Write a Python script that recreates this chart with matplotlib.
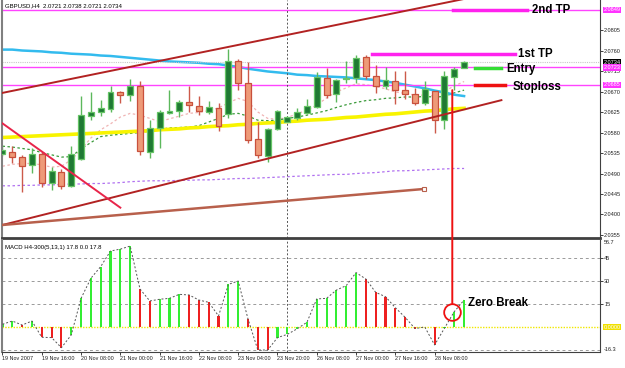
import numpy as np
import matplotlib.pyplot as plt
from matplotlib.patches import ConnectionPatch
from matplotlib.transforms import blended_transform_factory

plt.rcParams['font.family'] = ['Liberation Sans', 'DejaVu Sans']

# GBPUSD H4, 19-28 Nov 2007
opens = [2.0533, 2.0538, 2.0527, 2.0509, 2.0532, 2.0470, 2.0493, 2.0463, 2.0521, 2.0617,
         2.0624, 2.0631, 2.0669, 2.0662, 2.0682, 2.0538, 2.0589, 2.0622, 2.0627, 2.0647,
         2.0638, 2.0626, 2.0633, 2.0621, 2.0738, 2.0689, 2.0565, 2.0529, 2.0587, 2.0604,
         2.0611, 2.0622, 2.0637, 2.0699, 2.0664, 2.0698, 2.0699, 2.0745, 2.0703, 2.0682,
         2.0693, 2.0673, 2.0665, 2.0645, 2.0672, 2.0607, 2.0701, 2.0721]
highs = [2.0550, 2.0550, 2.0530, 2.0545, 2.0538, 2.0505, 2.0499, 2.0550, 2.0660, 2.0670,
         2.0651, 2.0681, 2.0671, 2.0697, 2.0692, 2.0607, 2.0629, 2.0673, 2.0651, 2.0683,
         2.0661, 2.0650, 2.0644, 2.0763, 2.0741, 2.0734, 2.0604, 2.0590, 2.0629, 2.0616,
         2.0633, 2.0653, 2.0712, 2.0721, 2.0697, 2.0738, 2.0750, 2.0750, 2.0728, 2.0724,
         2.0715, 2.0715, 2.0678, 2.0692, 2.0672, 2.0716, 2.0724, 2.0738]
lows = [2.0528, 2.0512, 2.0450, 2.0492, 2.0461, 2.0454, 2.0455, 2.0460, 2.0520, 2.0607,
        2.0616, 2.0626, 2.0644, 2.0650, 2.0531, 2.0523, 2.0545, 2.0621, 2.0613, 2.0626,
        2.0618, 2.0621, 2.0584, 2.0611, 2.0673, 2.0556, 2.0525, 2.0516, 2.0586, 2.0602,
        2.0607, 2.0621, 2.0633, 2.0655, 2.0646, 2.0688, 2.0688, 2.0697, 2.0666, 2.0675,
        2.0642, 2.0653, 2.0640, 2.0640, 2.0580, 2.0587, 2.0673, 2.0721]
closes = [2.0542, 2.0527, 2.0507, 2.0532, 2.0469, 2.0496, 2.0463, 2.0533, 2.0619, 2.0624,
          2.0634, 2.0669, 2.0662, 2.0682, 2.0540, 2.0590, 2.0624, 2.0627, 2.0648, 2.0640,
          2.0627, 2.0635, 2.0595, 2.0737, 2.0689, 2.0564, 2.0531, 2.0588, 2.0627, 2.0613,
          2.0624, 2.0638, 2.0701, 2.0662, 2.0695, 2.0700, 2.0744, 2.0704, 2.0682, 2.0695,
          2.0673, 2.0665, 2.0645, 2.0675, 2.0607, 2.0703, 2.0719, 2.0734]

# moving averages
ma_cyan = [2.0762, 2.0762, 2.0760, 2.0759, 2.0758, 2.0756, 2.0755, 2.0753, 2.0752, 2.0751,
           2.0749, 2.0748, 2.0746, 2.0744, 2.0742, 2.0740, 2.0738, 2.0736, 2.0735, 2.0734,
           2.0733, 2.0731, 2.0730, 2.0727, 2.0724, 2.0720, 2.0717, 2.0714, 2.0712, 2.0710,
           2.0707, 2.0706, 2.0704, 2.0703, 2.0702, 2.0701, 2.0699, 2.0697, 2.0695, 2.0692,
           2.0689, 2.0685, 2.0681, 2.0677, 2.0672, 2.0668, 2.0663, 2.0660]
ma_yellow = [2.0569, 2.0570, 2.0571, 2.0572, 2.0573, 2.0574, 2.0575, 2.0576, 2.0577, 2.0578,
             2.0579, 2.0580, 2.0581, 2.0582, 2.0583, 2.0584, 2.0586, 2.0587, 2.0588, 2.0590,
             2.0591, 2.0593, 2.0594, 2.0595, 2.0597, 2.0598, 2.0600, 2.0601, 2.0602, 2.0604,
             2.0605, 2.0607, 2.0608, 2.0609, 2.0611, 2.0613, 2.0614, 2.0616, 2.0618, 2.0620,
             2.0621, 2.0623, 2.0625, 2.0627, 2.0628, 2.0630, 2.0632, 2.0633]
ma_green = [2.0550, 2.0548, 2.0545, 2.0542, 2.0536, 2.0531, 2.0526, 2.0527, 2.0544, 2.0558,
            2.0571, 2.0574, 2.0576, 2.0578, 2.0580, 2.0583, 2.0587, 2.0590, 2.0591, 2.0592,
            2.0595, 2.0603, 2.0611, 2.0620, 2.0622, 2.0616, 2.0607, 2.0606, 2.0607, 2.0611,
            2.0614, 2.0618, 2.0623, 2.0628, 2.0635, 2.0641, 2.0646, 2.0650, 2.0652, 2.0655,
            2.0656, 2.0658, 2.0658, 2.0659, 2.0658, 2.0659, 2.0667, 2.0673]
ma_pink = [2.0506, 2.0510, 2.0512, 2.0512, 2.0509, 2.0504, 2.0506, 2.0520, 2.0542, 2.0568,
           2.0586, 2.0599, 2.0614, 2.0622, 2.0618, 2.0611, 2.0604, 2.0610, 2.0616, 2.0622,
           2.0624, 2.0628, 2.0634, 2.0645, 2.0655, 2.0648, 2.0625, 2.0611, 2.0609, 2.0613,
           2.0621, 2.0629, 2.0640, 2.0656, 2.0669, 2.0678, 2.0687, 2.0685, 2.0681, 2.0676,
           2.0669, 2.0666, 2.0662, 2.0662, 2.0660, 2.0671, 2.0682, 2.0692]
ma_purple = [2.0463, 2.0463, 2.0464, 2.0464, 2.0465, 2.0465, 2.0466, 2.0467, 2.0467, 2.0468,
             2.0468, 2.0469, 2.0470, 2.0472, 2.0473, 2.0474, 2.0474, 2.0474, 2.0475, 2.0475,
             2.0476, 2.0476, 2.0477, 2.0478, 2.0479, 2.0479, 2.0480, 2.0481, 2.0482, 2.0483,
             2.0484, 2.0485, 2.0486, 2.0487, 2.0488, 2.0488, 2.0490, 2.0491, 2.0492, 2.0494,
             2.0496, 2.0496, 2.0497, 2.0498, 2.0499, 2.0500, 2.0501, 2.0501]

# MACD H4-300(5,13,1)
macd = [2.0, 4.1, 1.5, 4.1, -6.5, -6.7, -13.3, -5.0, 18.9, 32.0, 39.6, 49.8, 51.0, 53.0,
        25.0, 17.2, 18.3, 18.9, 21.5, 21.1, 17.8, 16.3, 7.4, 28.0, 30.2, 5.4, -14.8, -14.8,
        -6.7, -4.6, -1.0, 3.3, 18.5, 18.9, 24.3, 27.2, 35.7, 31.5, 22.8, 20.0, 12.8, 6.5,
        -0.8, 0.2, -11.5, -0.6, 10.2, 17.8]

# trend lines: (bar0, price0, bar1, price1)
upper_channel = (0.0, 2.0667, 49.0, 2.0882)
lower_channel = (0.0, 2.0377, 50.8, 2.0651)
down_line = (0.0, 2.0600, 12.0, 2.0415)
base_line = (0.0, 2.0377, 42.9, 2.0456)

# horizontal levels
tp2 = 2.0849
tp1 = 2.0752
entry_level = 2.0723
stop_level = 2.0685
last_price = 2.0734

date_ticks = [0, 4, 8, 12, 16, 20, 24, 28, 32, 36, 40, 44]
date_labels = ['19 Nov 2007', '19 Nov 16:00', '20 Nov 08:00', '21 Nov 00:00', '21 Nov 16:00',
               '22 Nov 08:00', '23 Nov 04:00', '23 Nov 20:00', '26 Nov 08:00', '27 Nov 00:00',
               '27 Nov 16:00', '28 Nov 08:00']
price_ticks = [2.0355, 2.0400, 2.0445, 2.0490, 2.0535, 2.0580, 2.0625, 2.0670, 2.0715, 2.0760, 2.0805]
macd_ticks = [45, 30, 15]

W, H = 625, 368
fig = plt.figure(figsize=(W / 100, H / 100), dpi=100)
fig.patch.set_facecolor('white')


def add_px_axes(x0, y0, x1, y1):
    return fig.add_axes([x0 / W, 1 - y1 / H, (x1 - x0) / W, (y1 - y0) / H])


ax = add_px_axes(2, 0, 600, 238)
ax2 = add_px_axes(2, 240.4, 600, 352.3)
xlim = (-0.05, 60.84)
ax.set_xlim(*xlim)
ax.set_ylim(2.03484, 2.08709)
ax2.set_xlim(*xlim)
ax2.set_ylim(-16.3, 56.7)

x = np.arange(len(opens))
o = np.array(opens)
c = np.array(closes)
up = c >= o

# moving averages (behind the candles)
ax.plot(x, ma_purple, color='#b070f0', lw=0.9, ls=(0, (2, 2)), zorder=1)
ax.plot(x, ma_pink, color='#f0b4b4', lw=0.9, ls=(0, (2, 2)), zorder=1)
ax.plot(x, ma_green, color='#3a9a3a', lw=0.9, ls=(0, (2, 2)), zorder=1)
ax.plot(x, ma_yellow, color='#f8f400', lw=2.6, zorder=1)
ax.plot(x, ma_cyan, color='#33bbee', lw=1.8, zorder=1)

# horizontal levels
for lvl in (tp2, entry_level, stop_level):
    ax.axhline(lvl, color='#ff44ff', lw=1, zorder=1)
ax.axhline(last_price, color='#c8c8c8', lw=0.8, ls=(0, (1, 1)), zorder=1)

# candles
wick_col = np.where(up, '#5cb85c', '#cc5a4a')
ax.vlines(x, lows, highs, colors=wick_col, lw=1, zorder=2)
body_h = np.where(np.abs(c - o) < 0.00005, 0.00005, c - o)
ax.bar(x[up], body_h[up], bottom=o[up], width=0.6, color='#1f7a33',
       edgecolor='#66c466', lw=0.9, zorder=3)
ax.bar(x[~up], body_h[~up], bottom=o[~up], width=0.6, color='#ee9a78',
       edgecolor='#c8503c', lw=0.9, zorder=3)

# trend lines
for (x0, p0, x1, p1), col in ((upper_channel, '#b22222'), (lower_channel, '#b22222'),
                              (down_line, '#e8254a')):
    ax.plot([x0, x1], [p0, p1], color=col, lw=1.4, zorder=4)
ax.plot([base_line[0], base_line[2]], [base_line[1], base_line[3]], color='#b8604c', lw=1.8, zorder=4)
ax.plot([base_line[2]], [base_line[3]], marker='s', ms=3, mfc='white', mec='#b8604c', mew=0.8, zorder=5)

# trade plan annotations
ax.plot([45.85, 53.4], [tp2, tp2], color='#ff22ee', lw=2.5, zorder=5)
ax.plot([37.6, 52.2], [tp1, tp1], color='#ff22ee', lw=2.5, zorder=5)
ax.plot([48.1, 50.8], [2.0721, 2.0721], color='#33dd33', lw=2.5, zorder=5)
ax.plot([48.1, 51.2], [2.0684, 2.0684], color='#ee1111', lw=2.5, zorder=5)
ann = dict(fontsize=8.3, color='black', va='center', ha='left', fontweight='bold', zorder=6)
ax.text(53.9, tp2, '2nd TP', **ann)
ax.text(52.5, tp1, '1st TP', **ann)
ax.text(51.3, 2.0720, 'Entry', **ann)
ax.text(51.9, 2.0680, 'Stoploss', **ann)

ax.text(0.005, 0.985, 'GBPUSD,H4  2.0721 2.0738 2.0721 2.0734', transform=ax.transAxes,
        fontsize=4.3, va='top', ha='left', color='black')

# MACD panel
for lvl in (45, 30, 15, -15):
    ax2.axhline(lvl, color='#9a9a9a', lw=0.7, ls=(0, (3, 3)), zorder=0)
ax2.axhline(0, color='#f0e800', lw=1, ls=(0, (1, 1)), zorder=1)
m = np.array(macd)
rising = np.concatenate([[True], m[1:] > m[:-1]])
ax2.bar(x, m, width=0.22, color=np.where(rising, '#33ee33', '#ee2020'), zorder=2)
ax2.plot(x, m, color='#555555', lw=0.7, ls=(0, (2, 2)), zorder=3)
ax2.text(0.005, 0.96, 'MACD H4-300(5,13,1) 17.8 0.0 17.8', transform=ax2.transAxes,
         fontsize=4.3, va='top', ha='left', color='black')

# zero break marker and connecting line
ax2.plot([45.75], [10.2], marker='o', ms=12, mfc='none', mec='#ee1111', mew=1.3, zorder=5)
con = ConnectionPatch(xyA=(45.8, 2.0673), coordsA=ax.transData,
                      xyB=(45.8, 15.5), coordsB=ax2.transData, color='#ee1111', lw=1.4, zorder=6)
fig.add_artist(con)
ax2.text(47.4, 15.6, 'Zero Break', fontsize=8.3, fontweight='bold', va='center', ha='left', zorder=6)

# vertical separator
for a in (ax, ax2):
    a.axvline(28.95, color='#555555', lw=0.7, ls=(0, (2, 2)), zorder=1)

# axes styling
for a in (ax, ax2):
    a.set_facecolor('white')
    a.spines['left'].set_color('#808080')
    a.spines['left'].set_linewidth(1.5)
    a.spines['right'].set_color('#404040')
    a.spines['right'].set_linewidth(0.8)
    a.spines['top'].set_visible(False)
    a.yaxis.tick_right()
    a.tick_params(axis='y', direction='out', length=2, width=0.6, pad=1,
                  labelsize=4.0, colors='#202020')
ax.spines['bottom'].set_color('#404040')
ax.spines['bottom'].set_linewidth(2)
ax2.spines['bottom'].set_color('#404040')
ax2.spines['bottom'].set_linewidth(0.8)

ax.set_xticks([])
ax.set_yticks(price_ticks)
ax.set_yticklabels([f'{p:.4f}' for p in price_ticks])

ax2.set_yticks(macd_ticks)
ax2.set_yticklabels([str(v) for v in macd_ticks])
ax2.set_xticks(date_ticks)
ax2.set_xticklabels(date_labels, ha='left')
ax2.tick_params(axis='x', direction='out', length=2, width=0.6, pad=1,
                labelsize=3.9, colors='#202020')

# boxed right-axis labels
bt = blended_transform_factory(ax.transAxes, ax.transData)
for val, bg in ((tp2, '#ff33ff'), (last_price, 'black'), (entry_level, '#ff33ff'), (stop_level, '#ff33ff')):
    ax.text(1.006, val, f'{val:.4f}', transform=bt, fontsize=4.0, color='white', va='center', ha='left',
            bbox=dict(boxstyle='square,pad=0.12', fc=bg, ec='none'), clip_on=False, zorder=10)
bt2 = blended_transform_factory(ax2.transAxes, ax2.transData)
ax2.text(1.006, 0, '0.0000', transform=bt2, fontsize=4.0, color='white', va='center', ha='left',
         bbox=dict(boxstyle='square,pad=0.12', fc='#f0e000', ec='none'), clip_on=False)
ax2.text(1.006, 56.7, '56.7', transform=bt2, fontsize=4.0, color='#202020', va='top', ha='left')
ax2.text(1.006, -16.3, '-16.3', transform=bt2, fontsize=4.0, color='#202020', va='bottom', ha='left')

fig.savefig('out.png', dpi=100)
